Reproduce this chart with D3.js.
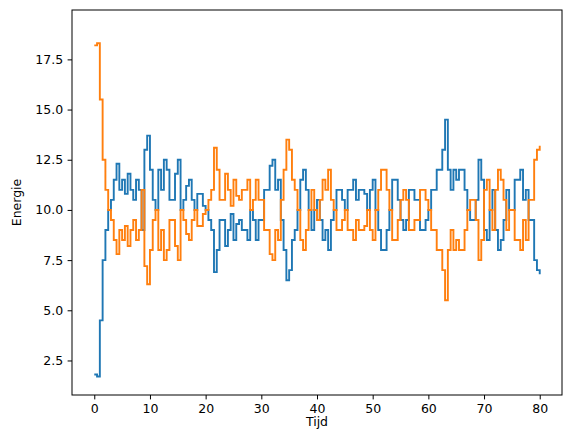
<!DOCTYPE html><html><head><meta charset="utf-8">
<script src="https://cdn.jsdelivr.net/npm/d3@7"></script>
<style>body{margin:0;background:#fff}</style></head><body><svg id="c" width="576" height="432"></svg>
<script>
const tijd = [0,0.5,1,1.5,2,2.5,3,3.5,4,4.5,5,5.5,6,6.5,7,7.5,8,8.5,9,9.5,10,10.5,11,11.5,12,12.5,13,13.5,14,14.5,15,15.5,16,16.5,17,17.5,18,18.5,19,19.5,20,20.5,21,21.5,22,22.5,23,23.5,24,24.5,25,25.5,26,26.5,27,27.5,28,28.5,29,29.5,30,30.5,31,31.5,32,32.5,33,33.5,34,34.5,35,35.5,36,36.5,37,37.5,38,38.5,39,39.5,40,40.5,41,41.5,42,42.5,43,43.5,44,44.5,45,45.5,46,46.5,47,47.5,48,48.5,49,49.5,50,50.5,51,51.5,52,52.5,53,53.5,54,54.5,55,55.5,56,56.5,57,57.5,58,58.5,59,59.5,60,60.5,61,61.5,62,62.5,63,63.5,64,64.5,65,65.5,66,66.5,67,67.5,68,68.5,69,69.5,70,70.5,71,71.5,72,72.5,73,73.5,74,74.5,75,75.5,76,76.5,77,77.5,78,78.5,79,79.5,80];
const blauw = [1.8,1.7,4.5,7.5,9,10,10.5,11.5,12.3,11,11.5,10.8,11.8,11,10.5,11.5,11,9,13,13.7,12,10.5,10,12,11,12.5,12,10.5,10.5,11.8,12.5,10,10.5,11.2,11.5,10.5,10,10.8,10.8,10.2,10,9.5,9,6.9,8,9.5,9.5,8.2,9,9.8,8.5,9.3,9.5,9,9,8.5,10,9.5,8.5,9.5,9.5,11,11,12.2,12.5,11,11.5,9.5,8,6.5,7,8.5,9,10,11.5,12,11,10,9,10,10.5,9.5,8.5,9,8,9.5,10,11,11,10.5,10,11,11,11.5,10.5,11,11,10.8,10,11,11.5,10,9,8,8,9,10,11.5,11.5,10.5,9.5,9,9.5,11,11,10.5,10.5,9,9,9.5,10,11,11,12,12,13,14.5,12,11,12,11.5,12,12,11,10,9.5,9.5,10.5,12.5,11.5,9,8.5,10,11,9,8,8.5,9.5,11,10,10,11.5,11.5,12,10.5,11,9.5,9.5,7.5,7,6.8,6.8];
const oranje = [18.2,18.3,15.5,12.5,11,10,9.5,8.5,7.8,9,8.5,9.2,8.2,9,9.5,8.5,9,11,7.2,6.3,8,9.5,10,8,9,7.5,8,9.5,9.5,8.2,7.5,10,9.5,8.8,8.5,9.5,10,9.2,9.2,9.8,10,10.5,11,13.1,12,10.5,10.5,11.8,11,10.2,11.5,10.7,10.5,11,11,11.5,10,10.5,11.5,10.5,10.5,9,9,7.8,7.5,9,8.5,10.5,12,13.5,13,11.5,11,10,8.5,8,9,10,11,10,9.5,10.5,11.5,11,12,10.5,10,9,9,9.5,10,9,9,8.5,9.5,9,9,9.2,10,9,8.5,10,11,12,12,11,10,8.5,8.5,9.5,10.5,11,10.5,9,9,9.5,9.5,11,11,10.5,10,9,9,8,8,7,5.5,8,9,8,8.5,8,8,9,10,10.5,10.5,9.5,7.5,8.5,11,11.5,10,9,11,12,11.5,10.5,9,10,10,8.5,8.5,8,9.5,8.5,10.5,10.5,12.5,13,13.2,13.2];
const xTicks = [0,10,20,30,40,50,60,70,80];
const yTicks = [2.5,5.0,7.5,10.0,12.5,15.0,17.5];
const svg = d3.select("#c");
const L=72,R=562,T=10,B=395;
const x = d3.scaleLinear().domain([-4,84]).range([L,R]);
const y = d3.scaleLinear().domain([0.78,19.96]).range([B,T]);
const g = svg.append("g").style("font-family","DejaVu Sans");
const line = d3.line().x((d,i)=>x(tijd[i])).y(d=>y(d)).curve(d3.curveStepAfter);
g.append("path").datum(blauw).attr("d",line).attr("fill","none").attr("stroke","#1f77b4").attr("stroke-width",1.9);
g.append("path").datum(oranje).attr("d",line).attr("fill","none").attr("stroke","#ff7f0e").attr("stroke-width",1.9);
const xa = g.append("g").attr("transform",`translate(0,${B})`).call(d3.axisBottom(x).tickValues(xTicks).tickSize(4.4).tickPadding(4.4));
const ya = g.append("g").attr("transform",`translate(${L},0)`).call(d3.axisLeft(y).tickValues(yTicks).tickFormat(d3.format(".1f")).tickSize(4.4).tickPadding(4.4));
[xa,ya].forEach(a=>{a.selectAll("text").attr("font-size",12.5).attr("fill","#000").style("font-family","DejaVu Sans");a.select(".domain").remove();a.selectAll("line").attr("stroke","#000");});
g.append("rect").attr("x",L).attr("y",T).attr("width",R-L).attr("height",B-T).attr("fill","none").attr("stroke","#000").attr("stroke-width",1);
g.append("text").attr("x",(L+R)/2).attr("y",426).attr("text-anchor","middle").attr("font-size",12.5).text("Tijd");
g.append("text").attr("transform",`translate(21,${(T+B)/2}) rotate(-90)`).attr("text-anchor","middle").attr("font-size",12.5).text("Energie");
</script></body></html>
